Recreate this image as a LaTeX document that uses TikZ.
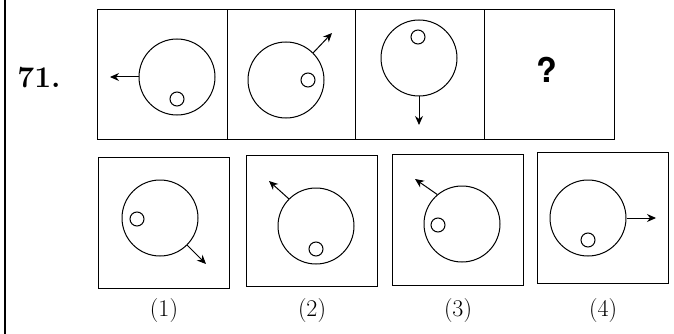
\documentclass[tikz,border=0pt]{standalone}
\usepackage{fontspec}
\newfontfamily\qfont{TeX Gyre Heros}
\usepackage{tikz}
\usetikzlibrary{arrows.meta}

\begin{document}
\begin{tikzpicture}[x=1pt, y=-1pt, line width=1pt,
  bigc/.style={draw, circle, inner sep=0pt, minimum size=76pt},
  dot/.style={draw, circle, inner sep=0pt, minimum size=14pt},
  arr/.style={-{Stealth[length=9pt,width=8pt]}},
  optlab/.style={font=\fontsize{24}{28}\selectfont}]
  \useasboundingbox (0,0) rectangle (674,334);
  % left margin rule and question number
  \draw[line width=1.4pt] (5,0) -- (5,334);
  \node[font=\fontsize{30}{36}\selectfont\bfseries] (num) at (39,78) {71.};
  % problem figures
  \draw (97,10) rectangle (614,139);
  \foreach \xd in {227,355,484}
    \draw (\xd,10) -- (\xd,139);
  \foreach \cx/\cy/\sx/\sy/\ang/\tx/\ty [count=\n] in {
    177/77/177/99/180/110/77, 286/80/308/80/45/332/33, 419/58/418/37/270/419/125}{
    \node[bigc] (p\n) at (\cx,\cy) {};
    \node[dot] (ps\n) at (\sx,\sy) {};
    \coordinate (pt\n) at (\tx,\ty);
    \draw[arr] (p\n.\ang) -- (pt\n);
  }
  \node[font=\fontsize{34}{40}\selectfont\qfont\bfseries] (q) at (547,70) {?};
  % answer figures
  \foreach \bx/\by/\cx/\cy/\sx/\sy/\ang/\tx/\ty [count=\n] in {
    98/157/160/218/137/219/-45/206/264,
    246/155/316/226/316/249/135/269/181,
    392/154/462/224/438/225/130/415/179,
    537/152/588/218/588/240/0/656/218}{
    \draw (\bx,\by) rectangle (\bx+131,\by+131);
    \node[bigc] (a\n) at (\cx,\cy) {};
    \node[dot] (as\n) at (\sx,\sy) {};
    \coordinate (at\n) at (\tx,\ty);
    \draw[arr] (a\n.\ang) -- (at\n);
    \node[optlab] (l\n) at (\bx+66,311) {(\n)};
  }
\end{tikzpicture}
\end{document}
